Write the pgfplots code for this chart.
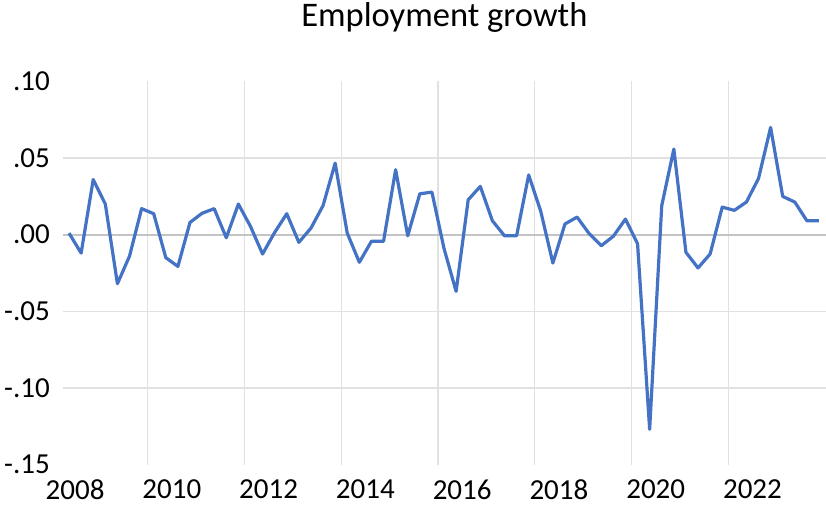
\documentclass[border=0pt]{standalone}
\usepackage{fontspec}
\setmainfont{Carlito}
\usepackage{pgfplots}
\pgfplotsset{compat=1.18}
\definecolor{xlblue}{RGB}{68,114,196}
\definecolor{gridc}{RGB}{225,225,225}
\definecolor{zeroc}{RGB}{196,196,196}
\begin{document}
\begin{tikzpicture}
\useasboundingbox (-62.7pt,-44.5pt) rectangle (763.3pt,464.5pt);
\begin{axis}[
 at={(0,0)}, anchor=south west,
 scale only axis, width=763.3pt, height=383pt,
 xmin=2008.244, xmax=2024.02, ymin=-0.15, ymax=0.10,
 axis line style={draw=none},
 major tick length=0pt, minor tick length=0pt,
 xtick={2008.5,2010.5,2012.5,2014.5,2016.5,2018.5,2020.5,2022.5},
 xticklabels={2008,2010,2012,2014,2016,2018,2020,2022},
 minor xtick={2010,2012,2014,2016,2018,2020,2022},
 ytick={-0.15,-0.10,-0.05,0,0.05,0.10},
 yticklabels={-.15,-.10,-.05,.00,.05,.10},
 minor ytick={-0.10,-0.05,0.05},
 xminorgrids, yminorgrids,
 minor grid style={gridc, line width=1.4pt},
 extra y ticks={0}, extra y tick labels={},
 extra y tick style={grid=major, major grid style={zeroc, line width=2pt}},
 ticklabel style={font=\fontsize{29}{34}\selectfont, inner sep=0pt},
 xticklabel style={yshift=-15pt},
 yticklabel style={xshift=-12.7pt},
 title={Employment growth},
 title style={at={(0.5,1)}, anchor=base, yshift=48.5pt, font=\fontsize{34.5}{40}\selectfont, inner sep=0pt},
 clip=false,
]
\addplot[xlblue, line width=3.2pt, line join=round] table {
x y
2008.375 0.001
2008.625 -0.012
2008.875 0.036
2009.125 0.020
2009.375 -0.032
2009.625 -0.014
2009.875 0.017
2010.125 0.0137
2010.375 -0.015
2010.625 -0.0207
2010.875 0.008
2011.125 0.014
2011.375 0.017
2011.625 -0.002
2011.875 0.020
2012.125 0.0054
2012.375 -0.0126
2012.625 0.0015
2012.875 0.0137
2013.125 -0.005
2013.375 0.0043
2013.625 0.019
2013.875 0.0467
2014.125 0.001
2014.375 -0.018
2014.625 -0.0043
2014.875 -0.0043
2015.125 0.0424
2015.375 -0.0007
2015.625 0.0267
2015.875 0.0278
2016.125 -0.009
2016.375 -0.037
2016.625 0.0228
2016.875 0.0315
2017.125 0.0091
2017.375 -0.0007
2017.625 -0.0007
2017.875 0.039
2018.125 0.0152
2018.375 -0.0185
2018.625 0.007
2018.875 0.0115
2019.125 0.0007
2019.375 -0.0072
2019.625 -0.001
2019.875 0.0102
2020.125 -0.0059
2020.375 -0.127
2020.625 0.019
2020.875 0.0559
2021.125 -0.0115
2021.375 -0.0217
2021.625 -0.0126
2021.875 0.018
2022.125 0.0159
2022.375 0.0213
2022.625 0.0367
2022.875 0.070
2023.125 0.025
2023.375 0.0213
2023.625 0.0091
2023.875 0.0091
};
\end{axis}
\end{tikzpicture}
\end{document}
